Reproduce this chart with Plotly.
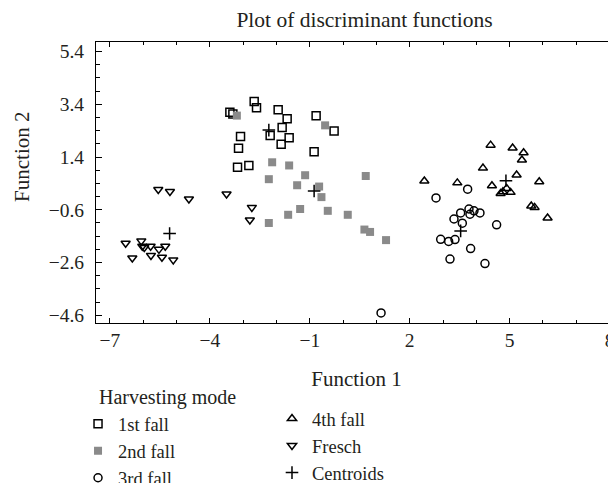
import plotly.graph_objects as go

# ---- data ----
fall1_x = [-2.67, -2.60, -3.40, -3.31, -1.95, -1.68, -0.81, -0.27, -1.83, -2.19, -1.62, -1.86, -0.87, -3.08, -3.14, -3.17, -2.83]
fall1_y = [3.50, 3.27, 3.10, 3.03, 3.19, 2.85, 2.96, 2.39, 2.52, 2.22, 2.13, 1.88, 1.60, 2.18, 1.73, 1.01, 1.08]

fall2_x = [-3.19, -0.54, -2.13, -1.62, -2.23, -1.14, -1.38, -0.72, -0.65, -1.29, -1.65, -2.23, -0.46, 0.14, 0.68, 0.64, 0.81, 1.29]
fall2_y = [2.97, 2.60, 1.20, 1.08, 0.56, 0.71, 0.33, 0.28, -0.12, -0.57, -0.79, -1.10, -0.64, -0.79, 0.68, -1.35, -1.44, -1.75]

fall3_x = [3.74, 2.79, 3.78, 3.93, 4.11, 3.53, 3.81, 3.33, 3.58, 4.61, 2.93, 3.17, 3.36, 3.83, 3.21, 4.26, 1.14]
fall3_y = [0.18, -0.15, -0.57, -0.64, -0.72, -0.72, -0.77, -0.95, -1.11, -1.17, -1.72, -1.80, -1.73, -2.07, -2.47, -2.64, -4.51]

fall4_x = [2.44, 3.43, 4.20, 4.43, 5.09, 5.42, 5.37, 5.21, 5.89, 4.47, 4.73, 4.80, 4.91, 5.03, 5.65, 5.75, 6.14]
fall4_y = [0.49, 0.42, 0.98, 1.85, 1.74, 1.56, 1.29, 0.72, 0.46, 0.31, 0.02, 0.08, 0.21, 0.06, -0.46, -0.51, -0.91]

fresch_x = [-5.55, -5.20, -4.63, -3.50, -2.74, -2.80, -6.53, -6.06, -6.03, -5.97, -5.78, -5.53, -5.34, -6.33, -5.77, -5.44, -5.10]
fresch_y = [0.17, 0.09, -0.19, 0.00, -0.51, -0.99, -1.87, -1.78, -1.98, -2.03, -1.98, -2.10, -1.98, -2.43, -2.33, -2.40, -2.50]

centroid_x = [-2.23, -0.87, 3.53, 4.89, -5.21]
centroid_y = [2.42, 0.11, -1.40, 0.50, -1.50]

x_range = [-7.42, 8.225]
y_range = [-4.892, 5.76]

FONT = "Liberation Serif"
INK = "#231f20"

fig = go.Figure()

def add(name, xs, ys, symbol, color, legend, size=8, lw=1.5):
    fig.add_trace(go.Scatter(
        x=xs, y=ys, mode="markers", name=name, legend=legend,
        marker=dict(symbol=symbol, size=size, color=color,
                    line=dict(width=lw, color=color)),
    ))

add("1st fall", fall1_x, fall1_y, "square-open", "black", "legend")
add("2nd fall", fall2_x, fall2_y, "square", "#8a8a8a", "legend", lw=0)
add("3rd fall", fall3_x, fall3_y, "circle-open", "black", "legend")
add("4th fall", fall4_x, fall4_y, "triangle-up-open", "black", "legend2")
add("Fresch", fresch_x, fresch_y, "triangle-down-open", "black", "legend2")
add("Centroids", centroid_x, centroid_y, "cross-thin-open", "black", "legend2", size=9)

axis_common = dict(
    showline=True, linecolor="black", linewidth=1, mirror="ticks",
    ticks="inside", tickcolor="black", tickwidth=1,
    showgrid=False, zeroline=False, automargin=False,
    tickfont=dict(family=FONT, size=19.5, color=INK),
)

fig.update_xaxes(
    range=x_range, tickmode="linear", tick0=-7, dtick=3, ticklen=5,
    minor=dict(tick0=-7, dtick=1, ticks="inside", ticklen=3, tickcolor="black", showgrid=False),
    title=dict(text="Function 1", font=dict(family=FONT, size=21, color=INK), standoff=20),
    **axis_common,
)
fig.update_yaxes(
    range=y_range, tickmode="linear", tick0=-4.6, dtick=2, ticklen=6, tickformat=".1f",
    minor=dict(tick0=-4.6, dtick=0.5, ticks="inside", ticklen=4, tickcolor="black", showgrid=False),
    ticklabelstandoff=7,
    **axis_common,
)

legend_font = dict(family=FONT, size=18.5, color=INK)
fig.update_layout(
    width=616, height=483,
    margin=dict(l=88, r=7, t=34, b=168.3, autoexpand=False),
    paper_bgcolor="white", plot_bgcolor="white",
    title=dict(text="Plot of discriminant functions", x=0.5787, xanchor="center",
               y=0.9772, yanchor="middle", font=dict(family=FONT, size=21.5, color=INK)),
    legend=dict(x=-0.0345, xanchor="left", y=-0.2923, yanchor="top",
                font=legend_font, bgcolor="rgba(0,0,0,0)", itemclick=False),
    legend2=dict(x=0.3378, xanchor="left", y=-0.274, yanchor="top",
                 font=legend_font, bgcolor="rgba(0,0,0,0)", itemclick=False),
    annotations=[
        dict(text="Harvesting mode", xref="paper", yref="paper",
             x=0.002, xanchor="left", y=-0.265, yanchor="middle",
             showarrow=False, font=dict(family=FONT, size=20, color=INK)),
        dict(text="Function 2", xref="paper", yref="paper", textangle=-90,
             x=-0.142, xanchor="center", y=0.591, yanchor="middle",
             showarrow=False, font=dict(family=FONT, size=21, color=INK)),
    ],
    showlegend=True,
)

fig.write_html("out.html")
